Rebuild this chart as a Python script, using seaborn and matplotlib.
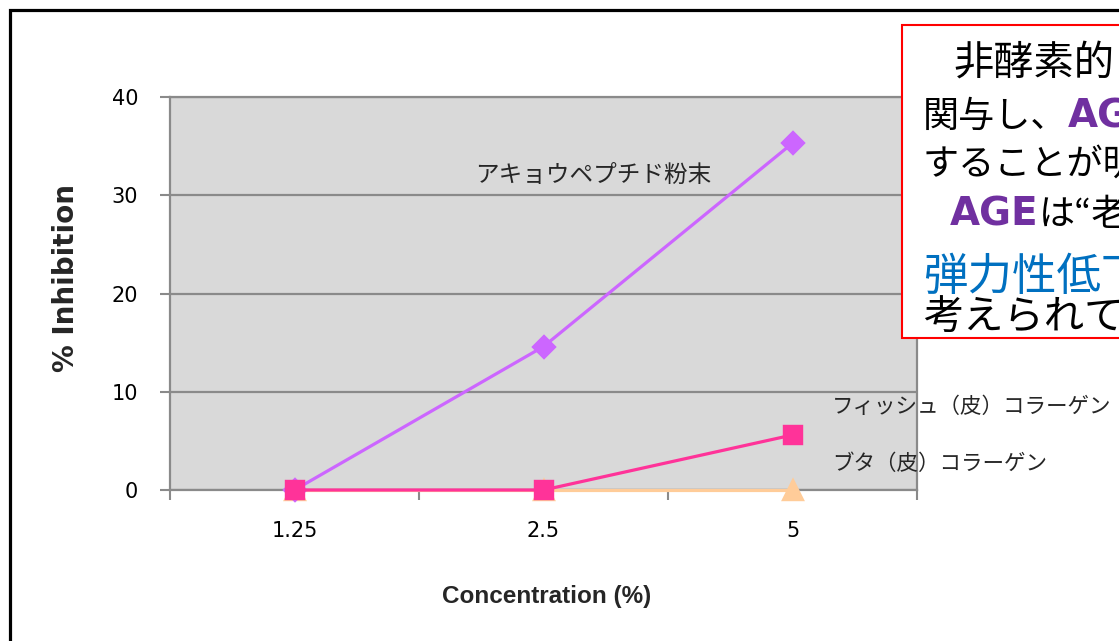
import numpy as np
import pandas as pd
import matplotlib
matplotlib.use("Agg")
import matplotlib.pyplot as plt
import seaborn as sns
from matplotlib.patches import Rectangle

# ---- data ----
categories = ["1.25", "2.5", "5"]
akyou = [0.0, 14.6, 35.3]
fish = [0.0, 0.0, 5.6]
buta = [0.0, 0.0, 0.0]
series_names = ["アキョウペプチド粉末", "フィッシュ（皮）コラーゲン", "ブタ（皮）コラーゲン"]
yticks = [0, 10, 20, 30, 40]
xlabel = "Concentration (%)"
ylabel = "% Inhibition"
box_lines = [
    [("非酵素的", "black", "normal")],
    [("関与し、", "black", "normal"), ("AGE", "#7030A0", "bold")],
    [("することが明", "black", "normal")],
    [("AGE", "#7030A0", "bold"), ("は“老", "black", "normal")],
    [("弾力性低下", "#0070C0", "normal")],
    [("考えられて", "black", "normal")],
]

sns.set_theme(style="white")
plt.rcParams["font.family"] = ["DejaVu Sans", "Noto Sans CJK JP"]
JP = ["Noto Sans CJK JP", "DejaVu Sans"]

W, H = 1119, 641
fig = plt.figure(figsize=(W / 100, H / 100), dpi=100)
fig.patch.set_facecolor("white")
ax = fig.add_axes([170 / W, 1 - 490 / H, 747 / W, 393 / H])
ax.set_facecolor("#D9D9D9")

common = dict(errorbar=None, ax=ax, linewidth=2.3, clip_on=False)
sns.pointplot(x=categories, y=buta, color="#FFCC99", marker="^", markersize=14,
              zorder=3, **common)
sns.pointplot(x=categories, y=akyou, color="#CC66FF", marker="D", markersize=11,
              zorder=4, **common)
sns.pointplot(x=categories, y=fish, color="#FF3399", marker="s", markersize=13,
              zorder=5, **common)

ax.set_xlim(-0.5, 2.5)
ax.set_ylim(0, 40)
ax.set_yticks(yticks)
ax.set_yticklabels([str(v) for v in yticks])
ax.set_xticks(range(len(categories)))
ax.set_xticklabels(categories)
ax.set_xticks([-0.5, 0.5, 1.5, 2.5], minor=True)
ax.set_axisbelow(True)
ax.yaxis.grid(True, color="#8A8A8A", linewidth=1.6)
ax.xaxis.grid(False)
for s in ax.spines.values():
    s.set_color("#8A8A8A")
    s.set_linewidth(1.6)
ax.tick_params(axis="y", which="major", length=7, width=1.5, color="#8A8A8A",
               direction="out", pad=16, labelsize=15, labelcolor="black", left=True)
ax.tick_params(axis="x", which="major", length=0, pad=22, labelsize=15, labelcolor="black")
ax.tick_params(axis="x", which="minor", length=7, width=1.5, color="#8A8A8A",
               direction="out", bottom=True)
ax.set_xlabel("")
ax.set_ylabel("")

# axis titles
fig.text(66 / W, 1 - 278 / H, ylabel, rotation=90, ha="center", va="center",
         fontsize=20, fontweight="bold", family="DejaVu Sans")
fig.text(547 / W, 1 - 596 / H, xlabel, ha="center", va="center",
         fontsize=17.5, fontweight="bold", family="Liberation Sans")

# series labels
fig.text(475 / W, 1 - 175 / H, series_names[0], ha="left", va="center",
         fontsize=17, family=JP)
fig.text(832 / W, 1 - 407 / H, series_names[1], ha="left", va="center",
         fontsize=15.5, family=JP)
fig.text(832 / W, 1 - 464 / H, series_names[2], ha="left", va="center",
         fontsize=15.5, family=JP)

# outer frame
fig.add_artist(Rectangle((10 / W, -0.2), 1.2, 1 - 10 / H + 0.2, fill=False,
                         edgecolor="black", linewidth=2.3,
                         transform=fig.transFigure, clip_on=False, zorder=1))
# red text box
box_bottom = 338
fig.add_artist(Rectangle((902 / W, 1 - box_bottom / H), 0.5, (box_bottom - 25) / H,
                         facecolor="white", edgecolor="#FF0000", linewidth=1.5,
                         transform=fig.transFigure, zorder=2))

renderer = fig.canvas.get_renderer()
line_x = [953, 923, 923, 950, 923, 923]
line_base = [75, 127, 175, 225, 290, 330]
line_size = [29, 26, 26, 26, 32, 29]
for pieces, x0, yb, fs in zip(box_lines, line_x, line_base, line_size):
    x = x0
    for txt, col, wt in pieces:
        fam = ["DejaVu Sans"] if wt == "bold" else JP
        size = 28 if wt == "bold" else fs
        t = fig.text(x / W, 1 - yb / H, txt, color=col, fontweight=wt, family=fam,
                     fontsize=size, ha="left", va="baseline", zorder=3)
        bb = t.get_window_extent(renderer=renderer)
        x = bb.x1

fig.savefig("out.png", dpi=100)
